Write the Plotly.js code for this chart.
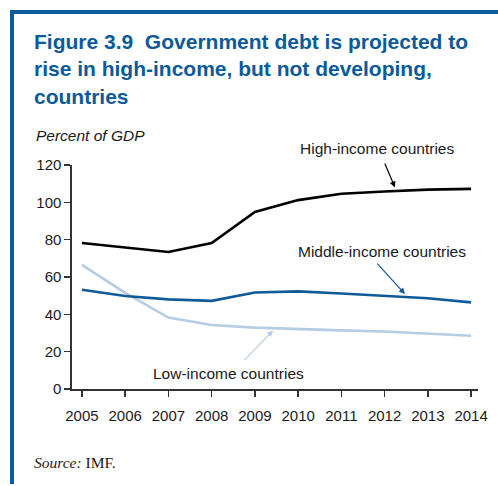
<!DOCTYPE html>
<html><head><meta charset="utf-8">
<script src="https://cdn.plot.ly/plotly-3.0.1.min.js"></script>
<style>
html,body{margin:0;padding:0;background:#fff;}
#wrap{position:relative;width:498px;height:486px;}
#chart{position:absolute;left:0;top:0;width:498px;height:486px;}
#bt{position:absolute;left:10px;top:10px;width:488px;height:4px;background:#0b5a9a;}
#bl{position:absolute;left:10px;top:10px;width:4px;height:474px;background:#0b5a9a;}
</style></head>
<body><div id="wrap"><div id="chart"></div><div id="bt"></div><div id="bl"></div></div>
<script>
const years = [2005,2006,2007,2008,2009,2010,2011,2012,2013,2014];
const highIncome = [78.2,75.8,73.4,78.2,94.8,101.2,104.6,105.8,106.8,107.2];
const middleIncome = [53.2,49.8,48.0,47.2,51.7,52.3,51.2,50.1,48.6,46.4];
const lowIncome = [66.5,51.5,38.3,34.3,32.9,32.0,31.4,30.8,29.8,28.5];
const yTicks = [0,20,40,60,80,100,120];

const traces = [
 {x:years,y:lowIncome,type:'scatter',mode:'lines',line:{color:'#b4cde4',width:2.6},name:'Low-income countries',hoverinfo:'skip'},
 {x:years,y:middleIncome,type:'scatter',mode:'lines',line:{color:'#0f5a98',width:2.6},name:'Middle-income countries',hoverinfo:'skip'},
 {x:years,y:highIncome,type:'scatter',mode:'lines',line:{color:'#000000',width:2.6},name:'High-income countries',hoverinfo:'skip'}
];
const SANS = '"Liberation Sans", Arial, sans-serif';
const tf = {family:SANS,size:15,color:'#1a1a1a'};
const af = {family:SANS,size:15.5,color:'#1a1a1a'};
// helpers converting reference pixel positions to paper coords
const px = v => (v-72)/406;
const py = v => (389-v)/224;
function arrow(x,y,ax,ay,color){return {x:x,y:y,ax:ax,ay:ay,xref:'x',yref:'y',axref:'x',ayref:'y',text:'',showarrow:true,arrowhead:2,arrowsize:1,arrowwidth:1.2,arrowcolor:color,standoff:0,startstandoff:0};}
function label(text,cx,cy){return {xref:'paper',yref:'paper',x:px(cx),y:py(cy),xanchor:'center',yanchor:'middle',text:text,showarrow:false,font:af};}
const layout = {
 width:498,height:486,
 margin:{l:72,r:20,t:165,b:97},
 paper_bgcolor:'#fff',plot_bgcolor:'#fff',
 showlegend:false,
 title:{text:'<b>Figure 3.9\u00a0 Government debt is projected to<br>rise in high-income, but not developing,<br>countries</b>',
   x:34/498,xanchor:'left',xref:'container',y:1-49/486,yanchor:'top',yref:'container',
   font:{family:SANS,size:21,color:'#0b5a9a'}},
 xaxis:{range:[2004.77,2014.16],tickvals:years,ticktext:years.map(String),showline:true,linecolor:'#333',linewidth:1.6,
   ticks:'outside',ticklen:6,tickwidth:1.4,tickcolor:'#333',showgrid:false,zeroline:false,tickfont:tf,ticklabelstandoff:6,fixedrange:true},
 yaxis:{range:[0,120],tickvals:yTicks,showline:true,linecolor:'#333',linewidth:1.6,
   ticks:'outside',ticklen:6,tickwidth:1.4,tickcolor:'#333',showgrid:false,zeroline:false,tickfont:tf,fixedrange:true},
 annotations:[
  {xref:'paper',yref:'paper',x:px(34),y:py(136),xanchor:'left',yanchor:'middle',showarrow:false,
   text:'<i>Percent of GDP</i>',font:af},
  label('High-income countries',376.5,148),
  label('Middle-income countries',382,251),
  label('Low-income countries',228.7,373),
  arrow(2012.24,108.0,2011.99,121.6,'#000'),
  arrow(2012.47,50.9,2011.80,68.0,'#0f5a98'),
  arrow(2009.42,31.3,2008.73,14.8,'#b4cde4'),
  {xref:'paper',yref:'paper',x:px(32),y:py(462),xanchor:'left',yanchor:'middle',showarrow:false,
   text:'<i>Source:</i> IMF.',font:{family:'"Liberation Serif", "Times New Roman", serif',size:15.5,color:'#1a1a1a'}}
 ]
};
Plotly.newPlot('chart',traces,layout,{displayModeBar:false,staticPlot:true});
</script></body></html>
